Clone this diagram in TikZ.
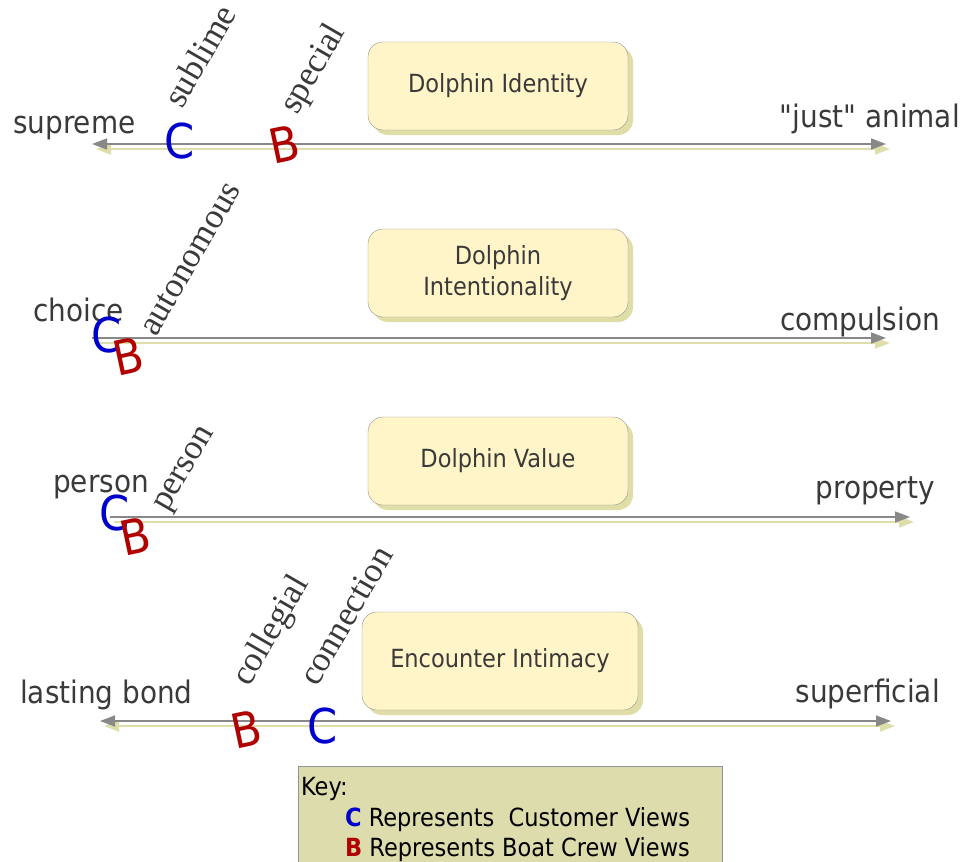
\documentclass[tikz,border=0pt]{standalone}
\usepackage{fontspec}
\setmainfont{Liberation Serif}
\newfontfamily\labfont{DejaVu Sans Condensed}
\usetikzlibrary{arrows.meta,shadows}

\definecolor{axisgray}{HTML}{888888}
\definecolor{axisshade}{HTML}{DEDEAA}
\definecolor{boxfill}{HTML}{FFF5C8}
\definecolor{boxshade}{HTML}{DEDEA6}
\definecolor{keyfill}{HTML}{DCDCAC}
\definecolor{inkgray}{HTML}{3A3A3A}
\definecolor{custblue}{HTML}{0000CC}
\definecolor{crewred}{HTML}{B00000}

\tikzset{
  topic/.style={draw=gray!85, fill=boxfill, rounded corners=15pt,
    minimum width=260pt, minimum height=88pt, align=center,
    font=\labfont\fontsize{25}{31}\selectfont, text=inkgray,
    drop shadow={shadow xshift=5pt, shadow yshift=-5pt, fill=boxshade, opacity=1}},
  pole/.style={font=\labfont\fontsize{31}{36}\selectfont, text=inkgray, inner sep=0pt},
  cview/.style={font=\labfont\fontsize{48}{48}\selectfont, text=custblue, inner sep=0pt},
  bview/.style={font=\labfont\fontsize{48}{48}\selectfont, text=crewred, inner sep=0pt, rotate=12},
  word/.style={font=\fontsize{35}{35}\selectfont, text=inkgray, inner sep=0pt,
    anchor=base west, rotate=60},
  axisline/.style={draw=axisgray, line width=1.5pt},
  axisshadow/.style={draw=axisshade, line width=2.2pt, transform canvas={shift={(4,5)}}},
  onehead/.style={-{Triangle[length=15pt,width=11pt]}},
  twohead/.style={{Triangle[length=15pt,width=11pt]}-{Triangle[length=15pt,width=11pt]}},
  keytext/.style={font=\labfont\fontsize{25}{30}\selectfont, text=black, inner sep=0pt, anchor=base west}
}

\begin{document}
\begin{tikzpicture}[x=1pt,y=-1pt]
\useasboundingbox (0,0) rectangle (964,862);

% ---------- Dolphin Identity ----------
\node[topic] (identity) at (498,86) {Dolphin Identity};
\coordinate (idL) at (92,144);
\coordinate (idR) at (886,144);
\draw[axisshadow,twohead] (idL) -- (idR);
\draw[axisline,twohead] (idL) -- (idR);
\node[pole,anchor=base west] (supreme) at (13,133) {supreme};
\node[pole,anchor=base east] (animal) at (960,127) {"just" animal};
\node[cview] (idC) at (180,141) {C};
\node[bview] (idB) at (284,144) {B};
\node[word] (sublime) at (182,110) {sublime};
\node[word] (special) at (297,116) {special};

% ---------- Dolphin Intentionality ----------
\node[topic] (intent) at (498,273) {Dolphin\\Intentionality};
\coordinate (inL) at (92,338);
\coordinate (inR) at (886,338);
\draw[axisshadow,onehead] (inL) -- (inR);
\draw[axisline,onehead] (inL) -- (inR);
\node[pole,anchor=base west] (choice) at (33,321) {choice};
\node[pole,anchor=base east] (compulsion) at (940,330) {compulsion};
\node[cview] (inC) at (107,335) {C};
\node[bview] (inB) at (128,356) {B};
\node[word] (autonomous) at (156,338) {autonomous};

% ---------- Dolphin Value ----------
\node[topic] (value) at (498,461) {Dolphin Value};
\coordinate (vaL) at (110,517);
\coordinate (vaR) at (910,517);
\draw[axisshadow,onehead] (vaL) -- (vaR);
\draw[axisline,onehead] (vaL) -- (vaR);
\node[pole,anchor=base west] (personL) at (53,492) {person};
\node[pole,anchor=base east] (property) at (935,498) {property};
\node[cview] (vaC) at (115,513) {C};
\node[bview] (vaB) at (135,536) {B};
\node[word] (personW) at (167,513) {person};

% ---------- Encounter Intimacy ----------
\node[topic,minimum width=276pt,minimum height=98pt] (intimacy) at (500,661) {Encounter Intimacy};
\coordinate (enL) at (100,721);
\coordinate (enR) at (891,721);
\draw[axisshadow,twohead] (enL) -- (enR);
\draw[axisline,twohead] (enL) -- (enR);
\node[pole,anchor=base west] (bond) at (20,703) {lasting bond};
\node[pole,anchor=base east] (superficial) at (940,702) {superficial};
\node[bview] (enB) at (246,729) {B};
\node[cview] (enC) at (323,726) {C};
\node[word] (collegial) at (249,688) {collegial};
\node[word] (connection) at (317,688) {connection};

% ---------- Key ----------
\node[draw=gray!85, fill=keyfill, anchor=north west, minimum width=424pt,
      minimum height=104pt, inner sep=0pt] (key) at (298,766) {};
\node[keytext] (keyhead) at (301,795) {Key:};
\node[keytext] (keyC) at (345,826) {{\bfseries\color{custblue}C} Represents\ \ Customer Views};
\node[keytext] (keyB) at (345,856) {{\bfseries\color{crewred}B} Represents Boat Crew Views};
\end{tikzpicture}
\end{document}
